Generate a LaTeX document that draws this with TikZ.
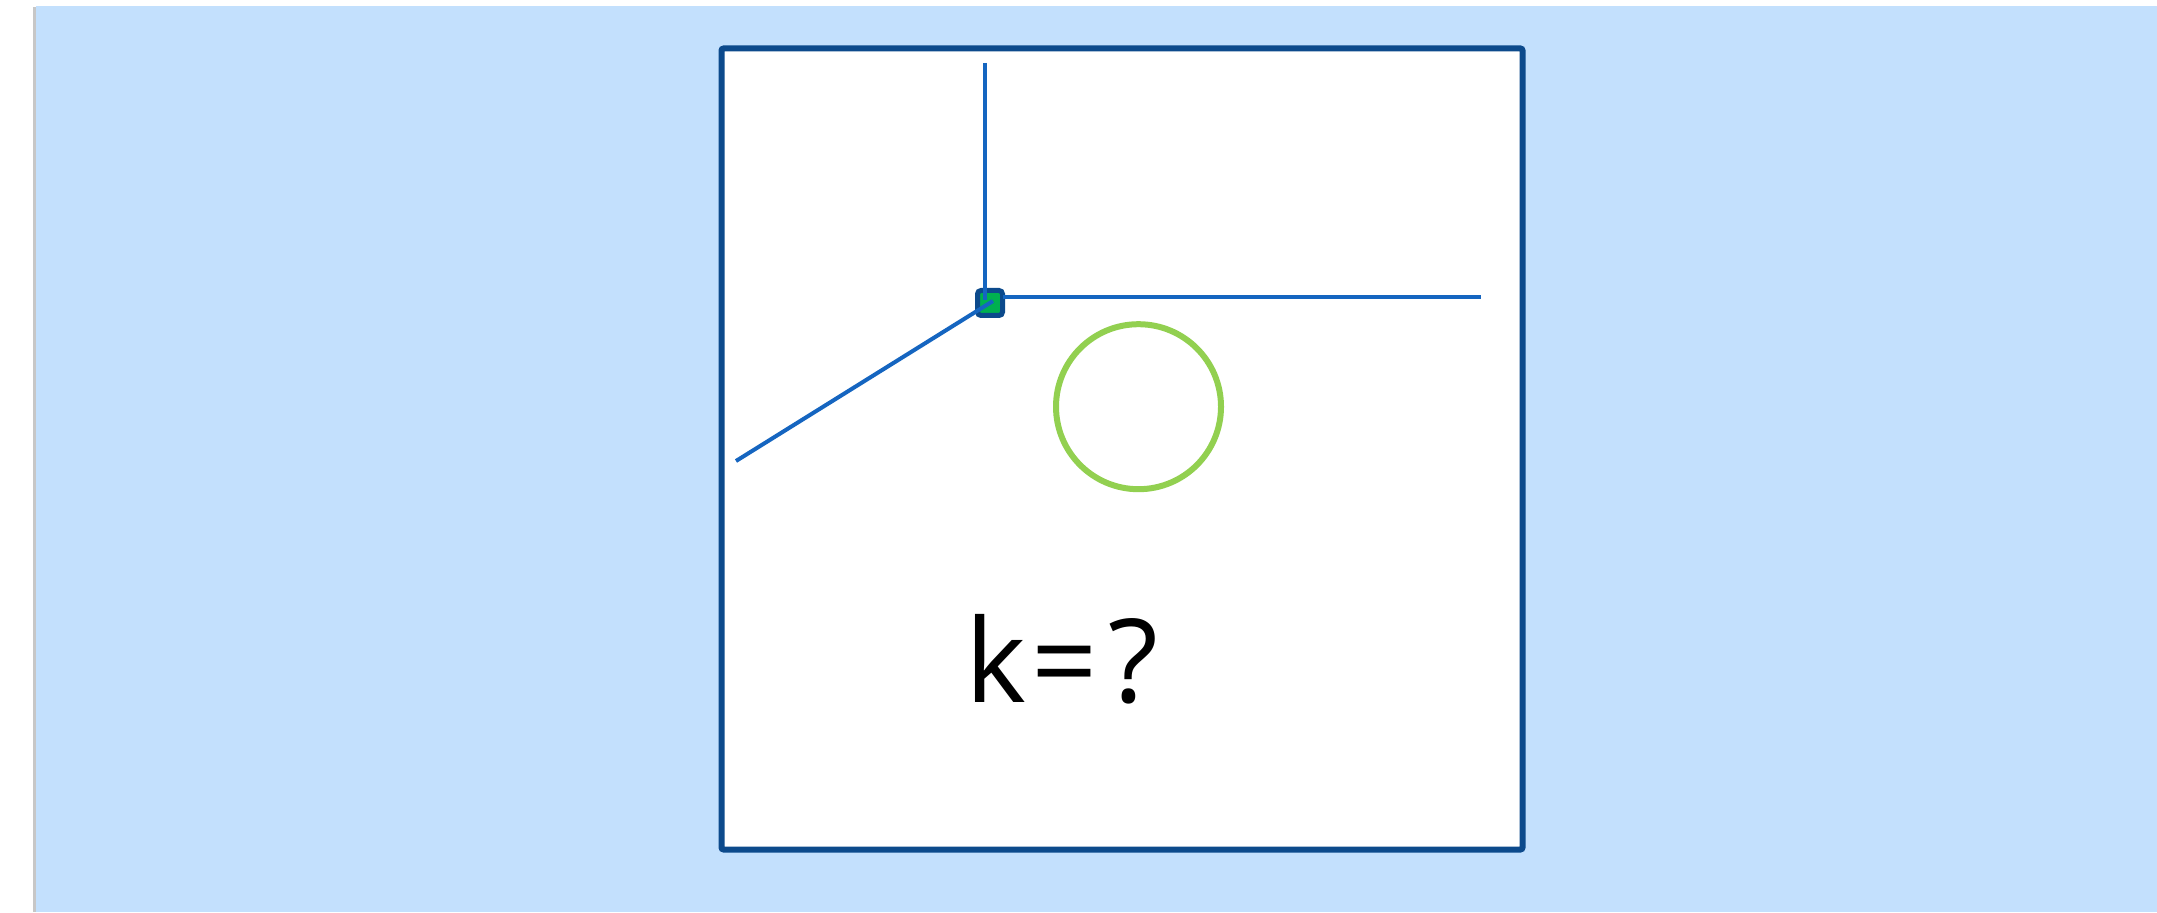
\documentclass[tikz,border=0pt]{standalone}
\usepackage{fontspec}
\setmainfont{Open Sans}
\usepackage{tikz}
\usetikzlibrary{positioning}
\definecolor{pagebg}{RGB}{195,224,253}
\definecolor{framedark}{RGB}{12,74,140}
\definecolor{spokeblue}{RGB}{21,101,192}
\definecolor{hubgreen}{RGB}{0,176,80}
\definecolor{ringgreen}{RGB}{146,208,80}

\begin{document}
\begin{tikzpicture}[
          page/.style={fill=pagebg, draw=none},
          board/.style={
              draw=framedark,
              fill=white,
              line width=0.06cm,
              rounded corners=0.6pt
            },
          hub/.style={
              draw=framedark,
              fill=hubgreen,
              line width=0.05cm,
              rounded corners=1pt,
              minimum size=0.25cm,
              inner sep=0pt
            },
          spoke/.style={spokeblue, line width=0.04cm},
          ring/.style={draw=ringgreen, line width=0.06cm},
          label/.style={font=\fontsize{33}{40}\selectfont, anchor=base, inner sep=0pt}
        ]
        \useasboundingbox (0,0) rectangle (21.57,9.12);
        % page and its shadow
        \fill[black!22] (0.325,0) rectangle (0.37,9.05);
        \fill[page] (0.36,0) rectangle (21.57,9.06);

        \draw[board] (7.215,0.625) rectangle (15.225,8.635);

        \node[hub] (hubsq) at (9.90,6.09) {};
        \coordinate (top_end) at (9.85,8.49);
        \coordinate (top_in) at (9.85,6.12);
        \coordinate (right_in) at (10.03,6.15);
        \coordinate (right_end) at (14.81,6.15);
        \coordinate (left_end) at (7.36,4.51);
        \coordinate (left_in) at (9.93,6.11);

        \draw[spoke] (top_end) -- (top_in);
        \draw[spoke] (right_in) -- (right_end);
        \draw[spoke] (left_end) -- (left_in);

        \node[ring, circle, minimum size=1.65cm, inner sep=0pt] (ball) at (11.385,5.053) {};

        \node[label] (kval) at (10.62,2.10) {k\kern1.5pt=\kern3pt?};
      \end{tikzpicture}
\end{document}
